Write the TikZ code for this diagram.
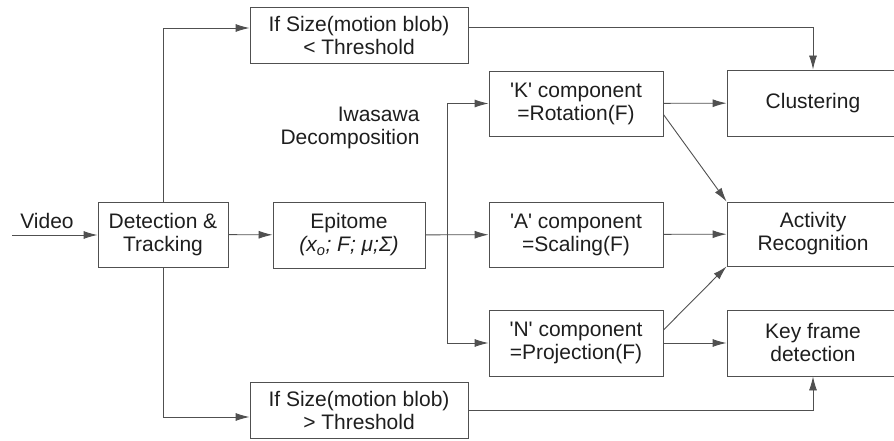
\documentclass[tikz,border=0pt]{standalone}
\usepackage{fontspec}
\setmainfont{Liberation Sans}
\usetikzlibrary{arrows.meta,positioning,calc}
\usepackage{xcolor}
\definecolor{edge}{HTML}{505050}
\definecolor{ink}{HTML}{1E1E1E}
\newcommand{\boxfont}{\fontsize{21}{23}\selectfont}
\newcommand{\sq}{\textquotesingle}

\begin{document}
\begin{tikzpicture}[
  x=1pt, y=1pt,
  box/.style={draw=edge, line width=0.9pt, align=center, inner sep=0pt, text=ink, font=\boxfont},
  thr/.style={minimum width=218pt, minimum height=56pt},
  comp/.style={minimum width=174pt, minimum height=65pt},
  res/.style={minimum width=172pt, minimum height=66pt},
  lbl/.style={text=ink, font=\boxfont},
  arr/.style={-{Latex[length=14pt,width=8pt]}, edge, line width=0.9pt}
]
\useasboundingbox (0,0) rectangle (894,-441);
\clip (0,0) rectangle (894,-441);

\node[box, minimum width=130pt, minimum height=65pt] (det) at (163,-234.5) {Detection \&\\Tracking};
\node[box, minimum width=152pt, minimum height=66pt] (epi) at (349,-235) {Epitome\\\textit{(x\textsubscript{o}; F; μ;Σ)}};
\node[box, thr] (lt) at (359,-35) {If Size(motion blob)\\< Threshold};
\node[box, thr] (gt) at (359,-410) {If Size(motion blob)\\> Threshold};

\node[box, comp] (kc) at (576,-103.5) {\sq K\sq{} component\\=Rotation(F)};
\node[box, comp] (ac) at (576,-234.5) {\sq A\sq{} component\\=Scaling(F)};
\node[box, comp, minimum height=66pt] (nc) at (576,-343) {\sq N\sq{} component\\=Projection(F)};

\node[box, res] (clu) at (813,-103) {Clustering};
\node[box, res, minimum height=64pt] (act) at (813,-234) {Activity\\Recognition};
\node[box, res] (key) at (813,-343) {Key frame\\detection};

\node[lbl] (vid) at (47,-221) {Video};
\node[lbl, align=right, anchor=east] (iwa) at (423,-128) {Iwasawa\\Decomposition};
\coordinate (vin) at (12,-235);
\coordinate (split) at (447,-235);

% main chain
\draw[arr] (vin) -- (vin -| det.west);
\draw[arr] (det) -- (epi);
\draw[arr] (epi) -- (ac);
\draw[arr] (split) |- (kc);
\draw[arr] (split) |- (nc);

% size branches
\draw[arr] (det) |- ([yshift=7pt]lt.west);
\draw[arr] (det) |- ([yshift=-7pt]gt.west);
\draw[arr] ([yshift=8pt]lt.east) -| (clu);
\draw[arr] (gt) -| (key);

% components to outputs
\draw[arr] (kc) -- (clu);
\draw[arr] (ac) -- (act);
\draw[arr] (nc) -- (key);
\draw[arr] ([yshift=-11pt]kc.east) -- (act.north west);
\draw[arr] ([yshift=13pt]nc.east) -- (act.south west);
\end{tikzpicture}
\end{document}
